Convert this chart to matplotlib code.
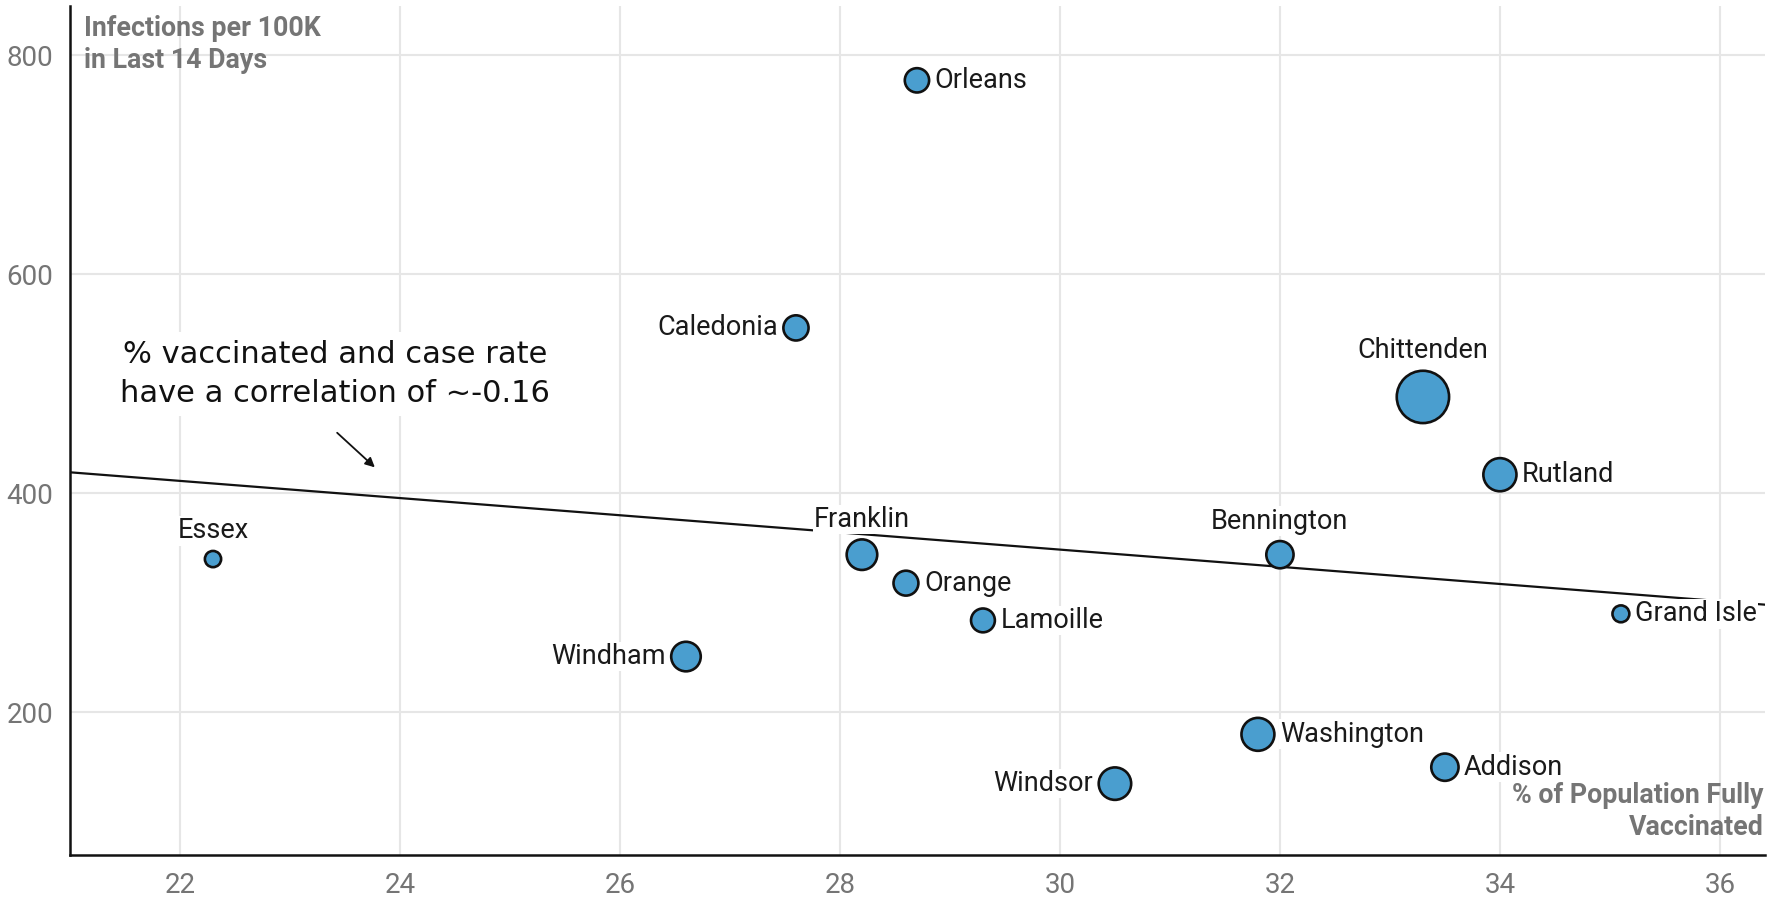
import numpy as np
import matplotlib
matplotlib.use("Agg")
import matplotlib.pyplot as plt

# county data
counties = ["Orleans", "Caledonia", "Chittenden", "Rutland", "Essex", "Franklin",
            "Orange", "Lamoille", "Bennington", "Grand Isle", "Windham",
            "Washington", "Addison", "Windsor"]
pct_vaccinated = [28.7, 27.6, 33.3, 34.0, 22.3, 28.2, 28.6, 29.3, 32.0, 35.1,
                  26.6, 31.8, 33.5, 30.5]
infections_100k = [777, 551, 488, 417, 340, 344, 318, 284, 344, 290, 251, 180,
                   150, 135]
# bubble size ~ county population (thousands)
population_k = [27.4, 30.2, 168.3, 60.6, 5.9, 49.9, 29.3, 25.9, 37.3, 7.3,
                45.9, 59.8, 37.4, 57.8]
label_side = ["right", "left", "top", "right", "top", "top", "right", "right",
              "top", "right", "left", "right", "right", "left"]

x_ticks = [22, 24, 26, 28, 30, 32, 34, 36]
y_ticks = [200, 400, 600, 800]

GRAY = "#757575"
BLUE = "#4A9ECF"
DARK = "#1a1a1a"

plt.rcParams["font.family"] = ["Roboto", "DejaVu Sans"]

fig = plt.figure(figsize=(17.68, 8.97), dpi=100)
ax = fig.add_axes([0.0396, 0.047, 0.9587, 0.9465])

x = np.array(pct_vaccinated)
y = np.array(infections_100k)
pop = np.array(population_k)

# bubble area (points^2)
sizes = 90 + 7.9 * pop

ax.set_xlim(21, 36.41)
ax.set_ylim(70, 845)

# linear trend
slope, intercept = np.polyfit(x, y, 1)
xl = np.array(ax.get_xlim())
ax.plot(xl, slope * xl + intercept, color="#111111", lw=1.6, zorder=2)

ax.scatter(x, y, s=sizes, color=BLUE, edgecolor="#111111", linewidth=1.9,
           zorder=3)

for name, xi, yi, s, side in zip(counties, x, y, sizes, label_side):
    r = np.sqrt(s) / 2
    if side == "right":
        off, ha, va = (r + 4, 0), "left", "center"
    elif side == "left":
        off, ha, va = (-r - 4, 0), "right", "center"
    else:
        off, ha, va = (0, r + 9), "center", "baseline"
    ax.annotate(name, (xi, yi), xytext=off, textcoords="offset points",
                ha=ha, va=va, fontsize=19.5, color=DARK, zorder=4,
                bbox=dict(facecolor="white", edgecolor="none", pad=1.0))

# correlation note
ax.text(23.41, 509, "% vaccinated and case rate\nhave a correlation of ~-0.16",
        ha="center", va="center", fontsize=22,
        family=["DejaVu Sans"], color="#111111", linespacing=1.4, zorder=4,
        bbox=dict(facecolor="white", edgecolor="none", pad=6))
ax.annotate("", xy=(23.79, 422), xytext=(23.41, 457),
            arrowprops=dict(arrowstyle="-|>", color="#111111", lw=1.3,
                            mutation_scale=14), zorder=4)

# axis titles inside the plot
ax.text(0.008, 0.989, "Infections per 100K\nin Last 14 Days",
        transform=ax.transAxes, ha="left", va="top", fontsize=19.3,
        fontweight="bold", color=GRAY, linespacing=1.25, zorder=5)
ax.text(0.999, 0.086, "% of Population Fully\nVaccinated",
        transform=ax.transAxes, ha="right", va="top", fontsize=19.3,
        fontweight="bold", color=GRAY, linespacing=1.25, zorder=5)

ax.set_xticks(x_ticks)
ax.set_yticks(y_ticks)
ax.tick_params(length=0, labelsize=20, labelcolor=GRAY, pad=12)
ax.grid(True, color="#e6e6e6", lw=1.5, zorder=0)
ax.set_axisbelow(True)
for side in ("top", "right"):
    ax.spines[side].set_visible(False)
for side in ("left", "bottom"):
    ax.spines[side].set_color("#111111")
    ax.spines[side].set_linewidth(1.8)

fig.savefig("out.png", dpi=100, facecolor="white")
